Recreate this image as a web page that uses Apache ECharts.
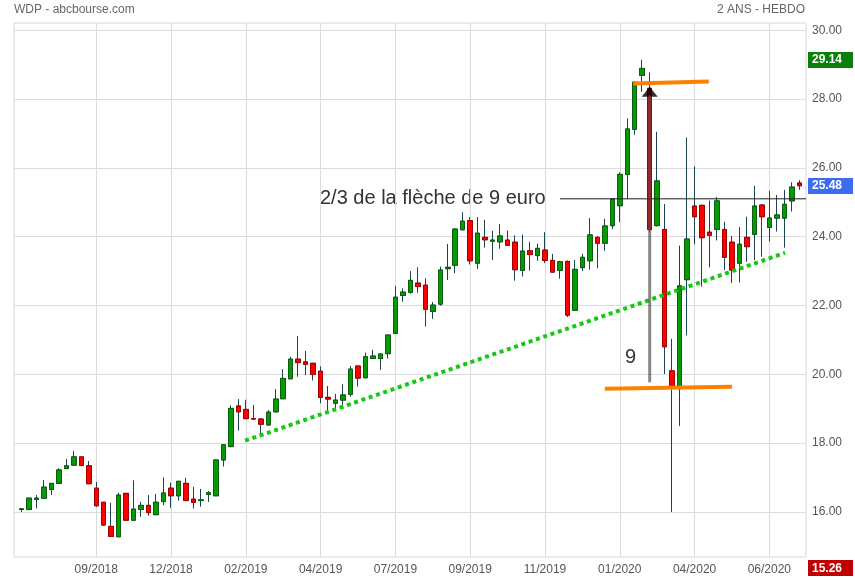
<!DOCTYPE html>
<html><head><meta charset="utf-8">
<script src="https://cdn.jsdelivr.net/npm/echarts@6/dist/echarts.min.js"></script>
<style>html,body{margin:0;padding:0;background:#fff}#c{width:855px;height:580px}</style>
</head><body><div id="c"></div>
<script>
// Weekly candles (index 0 = week of 16/07/2018)
const openV  = [16.07,16.07,16.36,16.40,16.65,16.83,17.26,17.36,17.60,17.34,16.69,16.28,15.58,15.28,16.54,15.76,16.07,16.19,15.92,16.30,16.69,16.47,16.83,16.37,16.33,16.51,16.47,17.51,17.90,19.08,18.98,18.71,18.70,18.53,18.91,19.29,19.87,20.44,20.36,20.32,20.09,19.33,19.16,19.25,19.42,20.24,19.90,20.46,20.46,20.60,21.19,22.29,22.38,22.65,22.59,21.83,22.04,23.07,23.17,24.20,24.47,23.23,23.98,23.87,23.85,23.90,23.84,23.02,23.59,23.45,23.61,23.31,23.02,23.28,21.86,23.10,23.30,23.98,23.81,24.32,24.90,25.81,27.12,28.69,28.31,24.32,24.21,20.10,19.64,22.75,24.89,24.91,24.13,24.21,24.21,23.84,23.23,23.98,24.07,24.92,24.27,24.54,24.54,25.04,25.56];
const closeV = [16.09,16.40,16.40,16.72,16.83,17.22,17.34,17.60,17.35,16.82,16.18,15.62,15.29,16.49,15.76,16.08,16.19,15.98,16.28,16.55,16.47,16.89,16.33,16.28,16.35,16.56,17.51,17.95,19.01,18.91,18.71,18.70,18.55,18.90,19.28,19.88,20.44,20.34,20.29,20.00,19.33,19.28,19.25,19.40,20.15,19.89,20.51,20.53,20.59,21.14,22.24,22.39,22.73,22.55,21.89,22.01,23.03,23.11,24.22,24.45,23.30,24.10,23.91,23.90,24.02,23.75,23.04,23.58,23.48,23.66,23.31,22.97,23.27,21.72,23.05,23.40,24.05,23.81,24.31,25.09,25.81,27.13,28.49,28.89,24.21,25.62,20.80,19.64,22.57,23.93,24.58,23.97,24.04,25.04,23.40,23.03,23.78,23.71,24.89,24.58,24.54,24.63,24.94,25.44,25.48];
const lowV   = [16.00,16.05,16.10,16.40,16.49,16.82,17.25,17.35,17.32,16.82,16.15,15.59,15.28,15.26,15.76,15.75,15.86,15.89,15.92,16.20,16.12,16.33,16.33,16.10,16.15,16.29,16.46,17.32,17.88,18.36,18.70,18.69,18.24,18.51,18.90,19.28,19.86,19.93,19.98,19.82,19.16,18.96,18.94,19.11,19.35,19.64,19.89,20.45,20.13,20.46,21.17,22.11,22.34,22.37,21.39,21.61,21.99,22.74,22.94,24.19,23.19,23.06,23.68,23.32,23.65,23.74,22.72,22.84,23.01,23.30,23.23,22.96,22.78,21.66,21.85,23.00,23.04,23.08,23.59,24.22,24.42,25.10,26.96,28.21,24.15,24.30,20.01,16.00,18.50,21.13,23.78,22.55,23.11,23.89,23.03,22.65,22.67,23.27,23.32,23.42,23.86,24.15,23.68,24.73,25.36];
const highV  = [16.10,16.42,16.49,16.93,16.84,17.27,17.54,17.77,17.61,17.48,16.87,16.28,16.27,16.56,16.54,16.92,16.29,16.49,16.52,17.00,16.85,16.90,16.99,16.73,16.67,16.61,17.52,17.96,19.10,19.28,19.26,19.11,18.73,18.96,19.57,20.15,20.51,21.11,20.68,20.33,20.23,19.66,19.43,19.71,20.24,20.25,20.63,20.71,20.60,21.15,22.57,22.50,23.00,23.11,22.79,22.10,23.13,23.79,24.25,24.71,24.57,24.57,24.49,24.17,24.37,24.18,24.04,24.06,23.85,23.80,24.13,23.50,23.30,23.31,23.32,23.50,24.54,24.02,24.52,25.12,25.87,27.44,28.50,29.14,28.77,27.05,24.95,21.03,23.74,26.88,26.04,24.93,25.05,25.15,24.43,24.02,24.28,24.58,25.48,24.93,25.33,25.21,25.36,25.58,25.64];

const xTickIdx    = [10,20,30,40,50,60,70,80,90,100];
const xTickLabels = ['09/2018','12/2018','02/2019','04/2019','07/2019','09/2019','11/2019','01/2020','04/2020','06/2020'];
const yTicks      = [16,18,20,22,24,26,28,30];

// Drawn annotations (in data coordinates: [week index, price])
const trendLine   = [[29.9,18.07],[102.1,23.53]];
const topOrange   = [[81.8,28.45],[91.9,28.51]];
const botOrange   = [[78.0,19.58],[95.0,19.64]];
const arrowShaft  = [[84,19.77],[84,28.10]];
const arrowHead   = [[84,28.21]];
const twoThirds   = [[72.0,25.10],[104.9,25.10]];
const highMark = 29.14, lastMark = 25.48, lowMark = 15.26;

const FONT = 'Arial, Liberation Sans, sans-serif';
const wickColor = '#1b4353';
const upFill = '#079a07', upBorder = '#0b5e0b';
const dnFill = '#ff0000', dnBorder = '#a40000';

const full = openV.map((o,i)=>[i,o,closeV[i],lowV[i],highV[i]]);
const bodies = openV.map((o,i)=>[i,o,closeV[i],Math.min(o,closeV[i]),Math.max(o,closeV[i])]);

const chart = echarts.init(document.getElementById('c'));
const baseGraphics = [
  {id:'t1',type:'text',left:14,top:4,style:{text:'WDP - abcbourse.com',fill:'#666',font:'12px '+FONT}},
  {id:'t2',type:'text',right:50,top:4,style:{text:'2 ANS - HEBDO',fill:'#666',font:'12px '+FONT}},
  {id:'t3',type:'text',left:320,top:188,style:{text:'2/3 de la flèche de 9 euro',fill:'#333',font:'20px '+FONT}},
  {id:'t4',type:'text',left:625,top:347,style:{text:'9',fill:'#333',font:'20px '+FONT}},
  {id:'t5',type:'text',left:808,top:560,style:{text:lowMark.toFixed(2),fill:'#fff',font:'bold 12px '+FONT,
    backgroundColor:'#c00000',padding:[2,11,1,4],lineHeight:13}}
];
chart.setOption({
  animation:false,
  textStyle:{fontFamily:FONT},
  grid:{left:14,right:49,top:23,bottom:23,show:true,borderColor:'#d8d8d8',borderWidth:1},
  xAxis:{type:'value',min:-1,max:104.9,
    axisLine:{show:false},
    axisTick:{show:false,customValues:xTickIdx},
    axisLabel:{customValues:xTickIdx,color:'#555',fontSize:12,margin:7,
      formatter:(v)=>{const k=xTickIdx.indexOf(Math.round(v));return k>=0?xTickLabels[k]:'';}},
    splitLine:{show:true,lineStyle:{color:'#dcdcdc',width:1}}},
  yAxis:{type:'value',position:'right',min:14.69,max:30.21,
    axisLine:{show:false},
    axisTick:{show:false,customValues:yTicks},
    axisLabel:{customValues:yTicks,color:'#555',fontSize:12,margin:6,formatter:(v)=>v.toFixed(2)},
    splitLine:{show:true,lineStyle:{color:'#dcdcdc',width:1}}},
  graphic:baseGraphics,
  series:[
    {type:'candlestick',data:full,encode:{x:0,y:[1,2,3,4]},barWidth:5,silent:true,
      itemStyle:{color:upFill,color0:dnFill,borderColor:wickColor,borderColor0:wickColor,borderWidth:1}},
    {type:'candlestick',data:bodies,encode:{x:0,y:[1,2,3,4]},barWidth:5,silent:true,
      itemStyle:{color:upFill,color0:dnFill,borderColor:upBorder,borderColor0:dnBorder,borderWidth:1}},
    {type:'line',data:twoThirds,symbol:'none',silent:true,lineStyle:{color:'#1a1a1a',width:1}},
    {type:'line',data:trendLine,symbol:'none',silent:true,lineStyle:{color:'#14c814',width:4,type:[4,3.7],cap:'butt'}},
    {type:'line',data:topOrange,symbol:'none',silent:true,lineStyle:{color:'#ff8000',width:4}},
    {type:'line',data:botOrange,symbol:'none',silent:true,lineStyle:{color:'#ff8000',width:4}},
    {type:'line',data:arrowShaft,symbol:'none',silent:true,lineStyle:{color:'rgba(70,70,70,0.65)',width:3}},
    {type:'scatter',data:arrowHead,symbol:'triangle',symbolSize:[16,10],silent:true,itemStyle:{color:'#000'}}
  ]
});
// value badges on the right axis, placed through the axis scale
const badge = (id,val,bg)=>({id:id,type:'text',x:808,y:Math.round(chart.convertToPixel({yAxisIndex:0},val)),
  style:{text:val.toFixed(2),fill:'#fff',font:'bold 12px '+FONT,backgroundColor:bg,padding:[2,11,1,4],
    lineHeight:13,verticalAlign:'middle'}});
chart.setOption({graphic:baseGraphics.concat([badge('b1',highMark,'#0b7f0b'),badge('b2',lastMark,'#3d6cf2')])});
</script></body></html>
